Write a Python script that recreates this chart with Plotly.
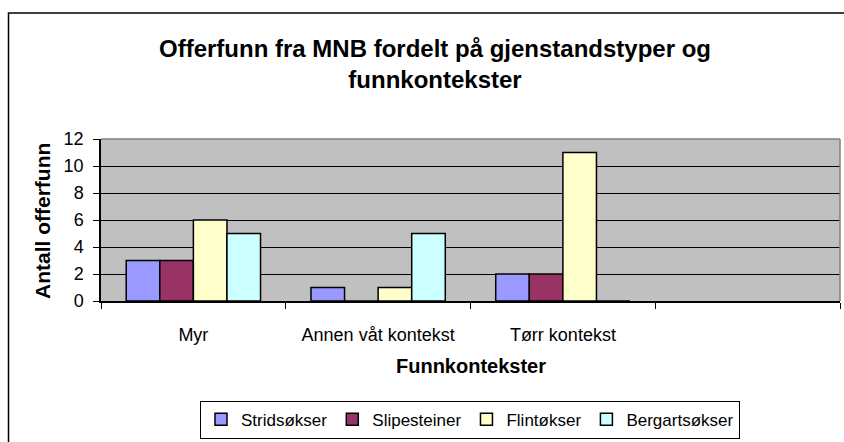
import plotly.graph_objects as go

categories = ["Myr", "Annen våt kontekst", "Tørr kontekst", " "]
series_names = ["Stridsøkser", "Slipesteiner", "Flintøkser", "Bergartsøkser"]
stridsokser = [3, 1, 2, None]
slipesteiner = [3, 0, 2, None]
flintokser = [6, 1, 11, None]
bergartsokser = [5, 5, 0, None]
colors = ["#9999FF", "#993366", "#FFFFCC", "#CCFFFF"]

FONT = "Arial, 'Liberation Sans', sans-serif"

fig = go.Figure()
for name, vals, col in zip(series_names, [stridsokser, slipesteiner, flintokser, bergartsokser], colors):
    fig.add_trace(go.Bar(
        x=categories, y=vals, name=name,
        marker=dict(color=col, line=dict(color="black", width=1.5)),
    ))

# plot area pixel geometry
L, R, T, B = 101, 840, 139, 303
W, H = 844, 442
pw, ph = R - L, B - T

def px(x):
    return (x - L) / pw

def py(y):
    return (B - y) / ph

fig.update_layout(
    width=W, height=H,
    margin=dict(l=L, r=W - R, t=T, b=H - B),
    paper_bgcolor="white",
    plot_bgcolor="#C0C0C0",
    barmode="group",
    bargap=0.273,
    bargroupgap=0,
    font=dict(family=FONT, size=18, color="black"),
    showlegend=True,
    legend=dict(
        orientation="h",
        x=px(470), xanchor="center",
        y=py(404), yanchor="top",
        bordercolor="black", borderwidth=1,
        font=dict(size=17),
        itemwidth=30,
        tracegroupgap=0,
    ),
    xaxis=dict(
        type="category",
        categoryorder="array", categoryarray=categories,
        range=[-0.5, 3.5],
        tickson="boundaries",
        ticks="outside", ticklen=6, tickcolor="black",
        showline=True, linecolor="black", linewidth=1.5,
        showgrid=False,
        tickfont=dict(size=18),
        ticklabelstandoff=17,
        fixedrange=True,
    ),
    yaxis=dict(
        range=[0, 12], dtick=2,
        ticks="outside", ticklen=6, tickcolor="black",
        showline=True, linecolor="black", linewidth=1.5,
        showgrid=True, gridcolor="black", gridwidth=1,
        tickfont=dict(size=18),
        ticklabelstandoff=6,
        zeroline=False,
        fixedrange=True,
    ),
    annotations=[
        dict(text="<b>Offerfunn fra MNB fordelt på gjenstandstyper og<br>funnkontekster</b>",
             xref="paper", yref="paper", x=px(435), y=py(63),
             xanchor="center", yanchor="middle", showarrow=False,
             font=dict(size=24)),
        dict(text="<b>Funnkontekster</b>",
             xref="paper", yref="paper", x=px(471), y=py(369),
             xanchor="center", yanchor="middle", showarrow=False,
             font=dict(size=20)),
        dict(text="<b>Antall offerfunn</b>",
             xref="paper", yref="paper", x=px(43), y=py(222),
             xanchor="center", yanchor="middle", showarrow=False,
             textangle=-90, font=dict(size=21)),
    ],
    shapes=[
        # outer chart border
        dict(type="rect", xref="paper", yref="paper",
             x0=px(8.5), x1=px(860), y0=py(460), y1=py(11.5),
             line=dict(color="black", width=1.5), layer="below"),
        # plot area top and right border (gray)
        dict(type="line", xref="paper", yref="paper",
             x0=0, x1=1, y0=1, y1=1, line=dict(color="#808080", width=1.5)),
        dict(type="line", xref="paper", yref="paper",
             x0=1, x1=1, y0=0, y1=1, line=dict(color="#808080", width=1.5)),
    ],
)

fig.write_html("out.html", config={"displayModeBar": False},
               post_script="document.body.style.margin='0';")
